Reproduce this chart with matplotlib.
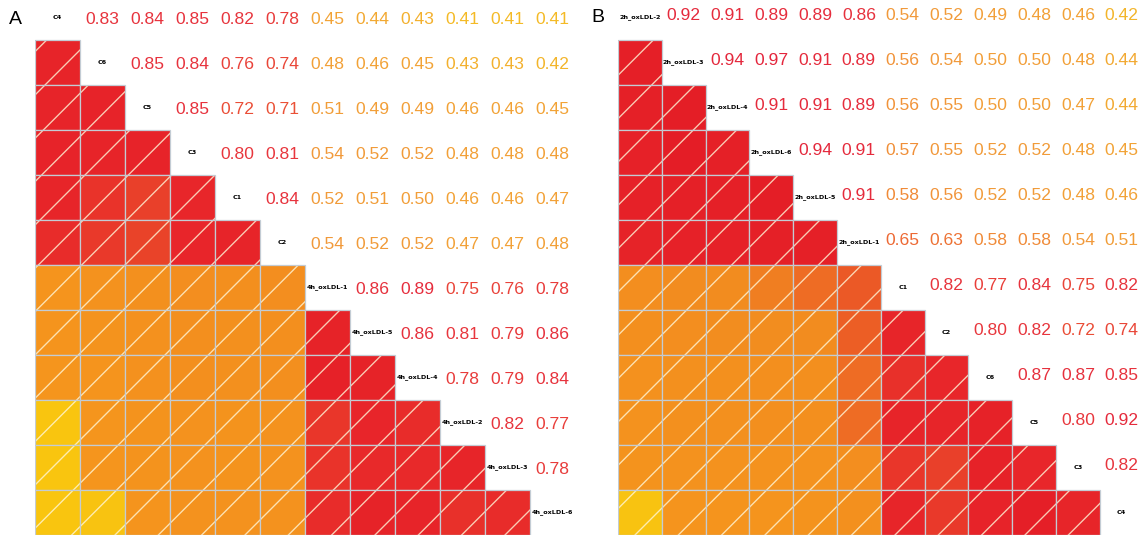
import numpy as np
import matplotlib.pyplot as plt
from matplotlib.colors import LinearSegmentedColormap, Normalize
from matplotlib.patches import Rectangle

# render at a higher dpi so the '/' hatch comes out with wider spacing
DPI = 130
PT = 100 / DPI  # font sizes below are given for 100 dpi
plt.rcParams["hatch.linewidth"] = 0.75

# panel A: sample order along the diagonal and upper-triangle correlations
labels_a = ["C4", "C6", "C5", "C3", "C1", "C2",
            "4h_oxLDL-1", "4h_oxLDL-5", "4h_oxLDL-4", "4h_oxLDL-2", "4h_oxLDL-3", "4h_oxLDL-6"]
upper_a = [
    [0.83, 0.84, 0.85, 0.82, 0.78, 0.45, 0.44, 0.43, 0.41, 0.41, 0.41],
    [0.85, 0.84, 0.76, 0.74, 0.48, 0.46, 0.45, 0.43, 0.43, 0.42],
    [0.85, 0.72, 0.71, 0.51, 0.49, 0.49, 0.46, 0.46, 0.45],
    [0.80, 0.81, 0.54, 0.52, 0.52, 0.48, 0.48, 0.48],
    [0.84, 0.52, 0.51, 0.50, 0.46, 0.46, 0.47],
    [0.54, 0.52, 0.52, 0.47, 0.47, 0.48],
    [0.86, 0.89, 0.75, 0.76, 0.78],
    [0.86, 0.81, 0.79, 0.86],
    [0.78, 0.79, 0.84],
    [0.82, 0.77],
    [0.78],
]

# panel B
labels_b = ["2h_oxLDL-2", "2h_oxLDL-3", "2h_oxLDL-4", "2h_oxLDL-6", "2h_oxLDL-5", "2h_oxLDL-1",
            "C1", "C2", "C6", "C5", "C3", "C4"]
upper_b = [
    [0.92, 0.91, 0.89, 0.89, 0.86, 0.54, 0.52, 0.49, 0.48, 0.46, 0.42],
    [0.94, 0.97, 0.91, 0.89, 0.56, 0.54, 0.50, 0.50, 0.48, 0.44],
    [0.91, 0.91, 0.89, 0.56, 0.55, 0.50, 0.50, 0.47, 0.44],
    [0.94, 0.91, 0.57, 0.55, 0.52, 0.52, 0.48, 0.45],
    [0.91, 0.58, 0.56, 0.52, 0.52, 0.48, 0.46],
    [0.65, 0.63, 0.58, 0.58, 0.54, 0.51],
    [0.82, 0.77, 0.84, 0.75, 0.82],
    [0.80, 0.82, 0.72, 0.74],
    [0.87, 0.87, 0.85],
    [0.80, 0.92],
    [0.82],
]

VMIN, VMAX = 0.40, 1.0
norm = Normalize(VMIN, VMAX)


def make_cmap(name, nodes):
    return LinearSegmentedColormap.from_list(
        name, [((v - VMIN) / (VMAX - VMIN), c) for v, c in nodes])


fill_cmap = make_cmap("fill", [
    (0.40, "#f9c80e"), (0.422, "#f8c211"), (0.428, "#f5951d"), (0.565, "#f28c1f"),
    (0.575, "#ee6d24"), (0.66, "#eb5626"), (0.72, "#e9402a"), (0.80, "#e8262a"),
    (1.00, "#e31b25"),
])
text_cmap = make_cmap("text", [
    (0.40, "#f4bf22"), (0.425, "#f3b22c"), (0.45, "#f2a336"), (0.55, "#f1983a"),
    (0.60, "#ef8034"), (0.66, "#ec6434"), (0.72, "#ea4d36"), (0.80, "#e8373d"),
    (1.00, "#e3223c"),
])


def full_matrix(upper):
    n = len(upper) + 1
    m = np.ones((n, n))
    for i, row in enumerate(upper):
        m[i, i + 1:] = row
        m[i + 1:, i] = row
    return m


def draw_panel(ax, labels, upper, dy):
    m = full_matrix(upper)
    n = len(labels)
    for i in range(n):
        for j in range(n):
            if j < i:
                ax.add_patch(Rectangle((j, i), 1, 1, facecolor=fill_cmap(norm(m[i, j])),
                                       edgecolor=(1, 0.97, 0.85, 0.8), lw=0, hatch="/"))
                ax.add_patch(Rectangle((j, i), 1, 1, fill=False,
                                       edgecolor="#c3ccd4", lw=0.9 * PT))
            elif j == i:
                ax.text(j + 0.5, i + 0.5, labels[i], fontsize=4.6 * PT, ha="center",
                        va="center", color="black", fontweight="bold")
            else:
                ax.text(j + 0.5, i + 0.5 + dy, f"{m[i, j]:.2f}", fontsize=12.6 * PT,
                        family="Liberation Sans", ha="center", va="center",
                        color=text_cmap(norm(m[i, j])))
    ax.set_xlim(0, n)
    ax.set_ylim(n, 0)
    ax.axis("off")


W, H = 1148, 537
fig = plt.figure(figsize=(W / DPI, H / DPI), dpi=DPI)

# axes boxes in pixels: left, top, width, height
ax_a = fig.add_axes([35 / W, (H - 535) / H, 540 / W, 540 / H])
ax_b = fig.add_axes([618 / W, (H - 535) / H, 525.6 / W, 540 / H])
draw_panel(ax_a, labels_a, upper_a, 0.05)
draw_panel(ax_b, labels_b, upper_b, -0.05)

fig.text(15 / W, 1 - 20 / H, "A", fontsize=14 * PT, family="Liberation Sans",
         ha="center", va="center")
fig.text(598 / W, 1 - 18 / H, "B", fontsize=14 * PT, family="Liberation Sans",
         ha="center", va="center")

fig.savefig("out.png", dpi=DPI)
